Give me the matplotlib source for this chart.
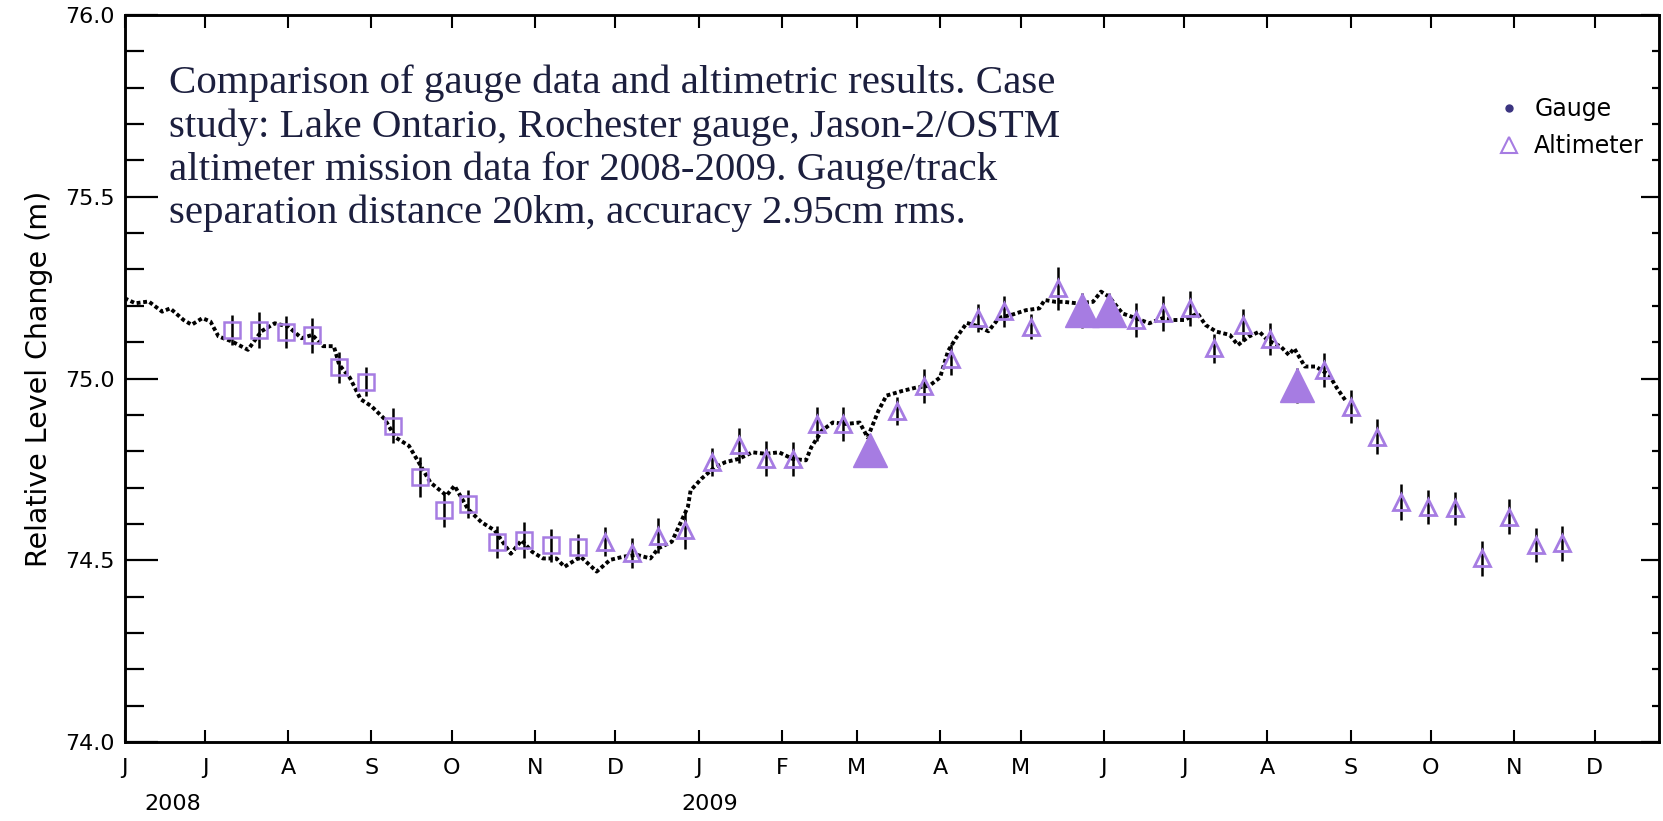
import numpy as np
import matplotlib
matplotlib.use('Agg')
import matplotlib.pyplot as plt
import matplotlib.dates as mdates
from matplotlib.lines import Line2D

# Gauge record
gauge_dates = [
    '2008-06-01', '2008-06-05', '2008-06-10', '2008-06-15', '2008-06-18', '2008-06-23',
    '2008-06-26', '2008-06-30', '2008-07-03', '2008-07-06', '2008-07-11', '2008-07-17',
    '2008-07-22', '2008-07-27', '2008-08-01', '2008-08-06', '2008-08-10', '2008-08-14',
    '2008-08-18', '2008-08-20', '2008-08-24', '2008-08-28', '2008-09-01', '2008-09-06',
    '2008-09-10', '2008-09-15', '2008-09-19', '2008-09-23', '2008-09-29', '2008-10-02',
    '2008-10-07', '2008-10-12', '2008-10-17', '2008-10-23', '2008-10-27', '2008-10-31',
    '2008-11-04', '2008-11-09', '2008-11-12', '2008-11-18', '2008-11-24', '2008-11-29',
    '2008-12-04', '2008-12-09', '2008-12-14', '2008-12-17', '2008-12-22', '2008-12-28',
    '2008-12-29', '2009-01-02', '2009-01-07', '2009-01-11', '2009-01-16', '2009-01-21',
    '2009-01-26', '2009-01-31', '2009-02-05', '2009-02-10', '2009-02-12', '2009-02-16',
    '2009-02-20', '2009-02-25', '2009-03-02', '2009-03-05', '2009-03-09', '2009-03-12',
    '2009-03-18', '2009-03-23', '2009-03-28', '2009-04-01', '2009-04-04', '2009-04-07',
    '2009-04-11', '2009-04-15', '2009-04-19', '2009-04-23', '2009-04-28', '2009-05-03',
    '2009-05-08', '2009-05-10', '2009-05-14', '2009-05-17', '2009-05-22', '2009-05-28',
    '2009-05-31', '2009-06-03', '2009-06-08', '2009-06-13', '2009-06-18', '2009-06-23',
    '2009-06-27', '2009-07-01', '2009-07-06', '2009-07-09', '2009-07-13', '2009-07-18',
    '2009-07-21', '2009-07-25', '2009-07-29', '2009-08-01', '2009-08-06', '2009-08-09',
    '2009-08-11', '2009-08-15', '2009-08-19', '2009-08-24', '2009-08-27', '2009-08-30',
]
gauge_level = [
    75.221, 75.207, 75.212, 75.184, 75.193, 75.161,
    75.148, 75.166, 75.157, 75.116, 75.102, 75.079,
    75.130, 75.152, 75.143, 75.111, 75.120, 75.089,
    75.089, 75.038, 75.002, 74.943, 74.924, 74.888,
    74.838, 74.815, 74.765, 74.714, 74.678, 74.705,
    74.641, 74.605, 74.582, 74.518, 74.555, 74.523,
    74.505, 74.505, 74.482, 74.510, 74.469, 74.501,
    74.510, 74.515, 74.505, 74.533, 74.551, 74.647,
    74.692, 74.724, 74.756, 74.770, 74.779, 74.797,
    74.793, 74.797, 74.779, 74.775, 74.811, 74.857,
    74.879, 74.875, 74.879, 74.838, 74.911, 74.953,
    74.966, 74.975, 74.980, 75.003, 75.076, 75.112,
    75.153, 75.144, 75.130, 75.167, 75.176, 75.188,
    75.193, 75.216, 75.211, 75.211, 75.207, 75.211,
    75.239, 75.225, 75.179, 75.166, 75.152, 75.166,
    75.161, 75.161, 75.179, 75.147, 75.129, 75.120,
    75.092, 75.115, 75.129, 75.106, 75.088, 75.065,
    75.083, 75.033, 75.033, 75.010, 74.973, 74.941,
]

# Altimeter passes, 2008 (squares)
sq_dates = ['2008-07-11', '2008-07-21', '2008-07-31', '2008-08-10', '2008-08-20', '2008-08-30',
            '2008-09-09', '2008-09-19', '2008-09-28', '2008-10-07', '2008-10-18', '2008-10-28',
            '2008-11-07', '2008-11-17']
sq_level = [75.134, 75.134, 75.128, 75.119, 75.031, 74.991,
            74.870, 74.728, 74.637, 74.655, 74.550, 74.555,
            74.541, 74.537]
sq_err = [0.041, 0.050, 0.044, 0.048, 0.043, 0.040,
          0.048, 0.055, 0.046, 0.039, 0.043, 0.050,
          0.046, 0.035]

# Altimeter passes, later (open triangles)
tri_dates = ['2008-11-27', '2008-12-07', '2008-12-17', '2008-12-27', '2009-01-06', '2009-01-16',
             '2009-01-26', '2009-02-05', '2009-02-14', '2009-02-24', '2009-03-16', '2009-03-26',
             '2009-04-05', '2009-04-15', '2009-04-25', '2009-05-05', '2009-05-15', '2009-06-13',
             '2009-06-23', '2009-07-03', '2009-07-12', '2009-07-23', '2009-08-02', '2009-08-22',
             '2009-09-01', '2009-09-11', '2009-09-20', '2009-09-30', '2009-10-10', '2009-10-20',
             '2009-10-30', '2009-11-09', '2009-11-19']
tri_level = [74.551, 74.519, 74.567, 74.583, 74.770, 74.816,
             74.779, 74.779, 74.875, 74.875, 74.911, 74.980,
             75.053, 75.167, 75.185, 75.143, 75.248, 75.161,
             75.179, 75.193, 75.083, 75.147, 75.110, 75.023,
             74.923, 74.840, 74.661, 74.647, 74.643, 74.505,
             74.620, 74.542, 74.547]
tri_err = [0.040, 0.041, 0.048, 0.052, 0.039, 0.048,
           0.048, 0.046, 0.048, 0.048, 0.039, 0.047,
           0.043, 0.039, 0.043, 0.034, 0.060, 0.048,
           0.048, 0.048, 0.039, 0.044, 0.044, 0.046,
           0.046, 0.048, 0.050, 0.046, 0.046, 0.048,
           0.048, 0.046, 0.048]

# Flagged passes (big filled triangles)
big_dates = ['2009-03-06', '2009-05-24', '2009-06-03', '2009-08-12']
big_level = [74.802, 75.188, 75.188, 74.982]
big_err = [0.039, 0.048, 0.046, 0.048]

month_letters = ['J', 'F', 'M', 'A', 'M', 'J', 'J', 'A', 'S', 'O', 'N', 'D']
year_labels = ['2008', '2009']
year_label_dates = ['2008-06-19', '2009-01-05']

note_lines = [
    'Comparison of gauge data and altimetric results. Case',
    'study: Lake Ontario, Rochester gauge, Jason-2/OSTM',
    'altimeter mission data for 2008-2009. Gauge/track',
    'separation distance 20km, accuracy 2.95cm rms.',
]

purple = '#a67ce2'


def to_dates(lst):
    return np.array(lst, dtype='datetime64[D]')


fig = plt.figure(figsize=(16.63, 8.21), dpi=100)
ax = fig.add_axes([0.0749, 0.0962, 0.9227, 0.8855])

ax.plot(to_dates(gauge_dates), gauge_level, color='black', lw=2.8,
        linestyle=(0, (1.0, 0.7)), zorder=3)

ax.errorbar(to_dates(sq_dates), sq_level, yerr=sq_err, fmt='none', ecolor='black',
            elinewidth=1.8, capsize=0, zorder=4)
ax.plot(to_dates(sq_dates), sq_level, 's', ms=12, mfc='none', mec=purple, mew=1.8, zorder=5)

ax.errorbar(to_dates(big_dates), big_level, yerr=big_err, fmt='none', ecolor='black',
            elinewidth=1.8, capsize=0, zorder=2)
ax.plot(to_dates(big_dates), big_level, '^', ms=24, color=purple, zorder=4.5)

ax.errorbar(to_dates(tri_dates), tri_level, yerr=tri_err, fmt='none', ecolor='black',
            elinewidth=1.8, capsize=0, zorder=4)
ax.plot(to_dates(tri_dates), tri_level, '^', ms=12, mfc='none', mec=purple, mew=2.0, zorder=5)

ax.set_xlim(np.datetime64('2008-06-01'), np.datetime64('2009-12-25'))
ax.set_ylim(74.0, 76.0)

ax.xaxis.set_major_locator(mdates.MonthLocator())
ax.xaxis.set_major_formatter(
    plt.FuncFormatter(lambda v, p: month_letters[mdates.num2date(v).month - 1]))
ax.set_yticks([74.0, 74.5, 75.0, 75.5, 76.0])
ax.set_yticks(np.arange(74.0, 76.01, 0.1), minor=True)
ax.yaxis.set_major_formatter(plt.FuncFormatter(lambda v, p: '%.1f' % v))

ax.tick_params(axis='x', direction='in', top=True, length=9, width=1.5, pad=11.5,
               labelsize=16)
ax.tick_params(axis='y', which='major', direction='in', left=True, right=False,
               length=24, width=1.6, pad=7, labelsize=16)
ax.tick_params(axis='y', which='minor', direction='in', left=True, right=False,
               length=14, width=1.6)

ax_r = ax.twinx()
ax_r.set_ylim(ax.get_ylim())
ax_r.set_yticks([74.0, 74.5, 75.0, 75.5, 76.0])
ax_r.set_yticks(np.arange(74.0, 76.01, 0.1), minor=True)
ax_r.tick_params(axis='y', which='major', direction='in', length=13, width=1.6,
                 labelright=False)
ax_r.tick_params(axis='y', which='minor', direction='in', length=5, width=1.6)

for a in (ax, ax_r):
    for s in a.spines.values():
        s.set_linewidth(1.8)

ax.set_ylabel('Relative Level Change (m)', fontsize=20.5, labelpad=9)

for lab, d in zip(year_labels, year_label_dates):
    ax.text(np.datetime64(d), -0.085, lab, transform=ax.get_xaxis_transform(),
            ha='center', va='center', fontsize=16)

for i, line in enumerate(note_lines):
    fig.text(0.1017, 1 - (93.0 + 43.5 * i) / 821, line, family='Liberation Serif',
             fontsize=29.5, color='#1c1f3e', va='baseline', ha='left')

handles = [
    Line2D([], [], marker='o', ls='none', ms=5, color='#3b3480'),
    Line2D([], [], marker='^', ls='none', ms=11, mfc='none', mec=purple, mew=1.5),
]
ax.legend(handles, ['Gauge', 'Altimeter'], loc='upper left', bbox_to_anchor=(0.884, 0.91),
          frameon=False, fontsize=17, handlelength=1.0, handletextpad=0.55,
          labelspacing=0.55, borderpad=0.2)

fig.savefig('out.png', dpi=100)
